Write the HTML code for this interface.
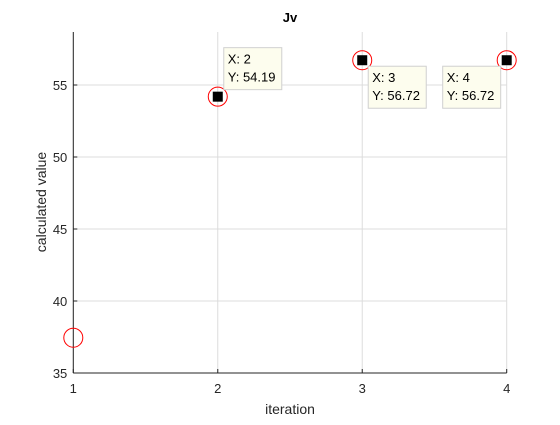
<!DOCTYPE html>
<html><head><style>
body{margin:0;background:#fff;}
svg text{font-family:"Liberation Sans",Arial,sans-serif;}
</style></head><body>
<svg id="chart" width="560" height="420" xmlns="http://www.w3.org/2000/svg">
<rect width="560" height="420" fill="#fff"/>
<g id="grid"></g><g id="axes"></g><g id="marks"></g><g id="tips"></g>
<text x="290" y="22" text-anchor="middle" font-size="13" font-weight="bold" fill="#000">Jv</text>
<text x="290" y="414" text-anchor="middle" font-size="14" fill="#262626">iteration</text>
<text transform="translate(46,202) rotate(-90)" text-anchor="middle" font-size="14" fill="#262626">calculated value</text>
</svg>
<script>
const iterations=[1,2,3,4];
const values=[37.45,54.19,56.72,56.72];
const tipIterations=[2,3,4];
const tipValues=[54.19,56.72,56.72];
const xTicks=[1,2,3,4];
const yTicks=[35,40,45,50,55];
const NS="http://www.w3.org/2000/svg";
const X0=73.3,X1=506.7,Y0=373,PPU=14.4,TOP=32;
const sx=v=>X0+(v-1)*(X1-X0)/3;
const sy=v=>Y0-(v-35)*PPU;
function mk(t,a,p){const e=document.createElementNS(NS,t);for(const k in a)e.setAttribute(k,a[k]);p.appendChild(e);return e;}
const grid=document.getElementById('grid'),axes=document.getElementById('axes'),marks=document.getElementById('marks'),tips=document.getElementById('tips');
xTicks.forEach(t=>{
 const g=mk('line',{x1:sx(t),x2:sx(t),y1:TOP,y2:Y0,stroke:'#dcdcdc','stroke-width':1},grid);
 
 
 const tk=mk('line',{x1:sx(t),x2:sx(t),y1:Y0,y2:Y0-4,stroke:'#262626'},axes);
 
 
 const l=mk('text',{x:sx(t),y:Y0+20,'text-anchor':'middle','font-size':13,fill:'#262626'},axes);l.textContent=t;
 
 
});
yTicks.forEach(t=>{
 const g=mk('line',{x1:X0,x2:X1,y1:sy(t),y2:sy(t),stroke:'#dcdcdc','stroke-width':1},grid);
 
 
 const tk=mk('line',{x1:X0,x2:X0+4,y1:sy(t),y2:sy(t),stroke:'#262626'},axes);
 
 
 const l=mk('text',{x:X0-6,y:sy(t)+5,'text-anchor':'end','font-size':13,fill:'#262626'},axes);l.textContent=t;
 
 
});
const xa=mk('line',{x1:X0,x2:X1,y1:Y0,y2:Y0,stroke:'#262626'},axes);


const ya=mk('line',{x1:X0,x2:X0,y1:TOP,y2:Y0,stroke:'#262626'},axes);


iterations.forEach((it,i)=>{
 const c=mk('circle',{cx:sx(it),cy:sy(values[i]),r:9.5,fill:'none',stroke:'#ff0000','stroke-width':1},marks);
 
 
});
tipIterations.forEach((it,i)=>{
 const px=sx(it),py=sy(tipValues[i]);
 const s=mk('rect',{x:px-5,y:py-5,width:10,height:10,fill:'#000'},tips);
 
 
 let bx,by;
 if(i===0){bx=px+6;by=py-49;}else{bx=px-64;by=py+6;}
 if(i===1){bx=px+6;}
 const g=mk('g',{},tips);
 
 
 mk('rect',{x:bx,y:by,width:58,height:42,fill:'#fdfdee',stroke:'#d0d0d0'},g);
 const t1=mk('text',{x:bx+4,y:by+16,'font-size':13,fill:'#000'},g);t1.textContent='X: '+it;
 const t2=mk('text',{x:bx+4,y:by+34,'font-size':13,fill:'#000'},g);t2.textContent='Y: '+tipValues[i].toFixed(2);
});
</script>
</body></html>
